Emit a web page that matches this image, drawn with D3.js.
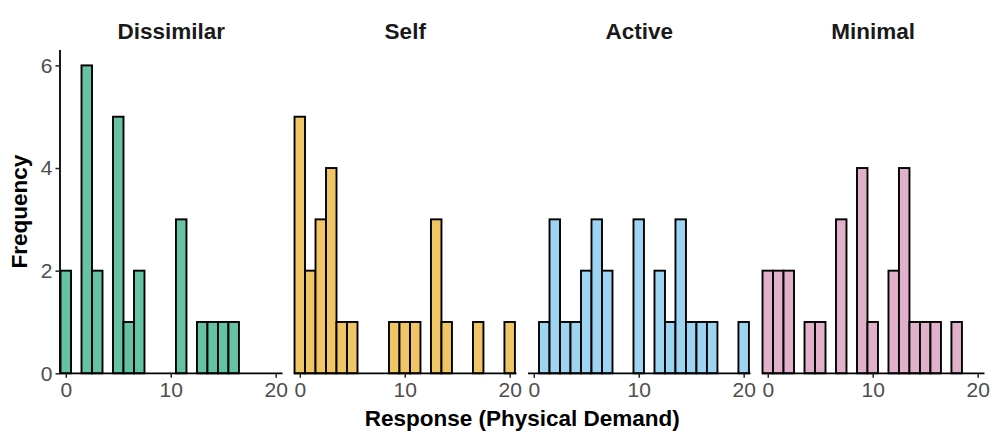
<!DOCTYPE html>
<html><head><meta charset="utf-8">
<script src="https://cdn.jsdelivr.net/npm/d3@7"></script>
<style>body{margin:0;background:#fff;}svg{display:block;font-family:"Liberation Sans",Arial,sans-serif;}</style>
</head><body>
<svg id="chart" width="996" height="443"></svg>
<script>
const groups = ["Dissimilar", "Self", "Active", "Minimal"];
const colors = ["#66C2A5", "#F0C566", "#9DD4F1", "#E1B1CB"];
const responses = d3.range(0, 21);
const dissimilarCounts = [2,0,6,2,0,5,1,2,0,0,0,3,0,1,1,1,1,0,0,0,0];
const selfCounts = [5,2,3,4,1,1,0,0,0,1,1,1,0,3,1,0,0,1,0,0,1];
const activeCounts = [0,1,3,1,1,2,3,2,0,0,3,0,2,1,3,1,1,1,0,0,1];
const minimalCounts = [2,2,2,0,1,1,0,3,0,4,1,0,2,4,1,1,1,0,1,0,0];
const xTicks = [0, 10, 20];
const yTicks = [0, 2, 4, 6];
const counts = [dissimilarCounts, selfCounts, activeCounts, minimalCounts];

const svg = d3.select("#chart");
const panelLeft0 = 60, panelStep = 234, panelW = 222.5;
const plotTop = 50, plotBottom = 373.3;
const x = d3.scaleLinear().domain([-0.55, 20.65]).range([0, panelW]);
const y = d3.scaleLinear().domain([0, 6.3]).range([plotBottom, plotTop]);

groups.forEach((g, i) => {
  const left = panelLeft0 + i * panelStep;
  const p = svg.append("g").attr("transform", `translate(${left},0)`);
  const data = responses.map((r, k) => ({r, c: counts[i][k]})).filter(d => d.c > 0);
  p.selectAll("rect").data(data).enter().append("rect")
    .attr("x", d => x(d.r - 0.5))
    .attr("width", d => x(d.r + 0.5) - x(d.r - 0.5))
    .attr("y", d => y(d.c))
    .attr("height", d => y(0) - y(d.c))
    .attr("fill", colors[i])
    .attr("stroke", "#000")
    .attr("stroke-width", 1.9);
  const ax = p.append("g").attr("transform", `translate(0,${plotBottom})`)
    .call(d3.axisBottom(x).tickValues(xTicks).tickSize(4.5).tickPadding(4).tickFormat(d3.format("d")));
  ax.select(".domain").attr("stroke", "#000").attr("stroke-width", 1.8).attr("d", `M0,0H${panelW}`);
  ax.selectAll(".tick line").attr("stroke", "#222").attr("stroke-width", 1.5);
  ax.selectAll(".tick text").attr("fill", "#4D4D4D").attr("font-size", 21).attr("font-family", "Liberation Sans, Arial, sans-serif");
  p.append("text").attr("x", panelW / 2).attr("y", 38.5).attr("text-anchor", "middle")
    .attr("font-weight", "bold").attr("font-size", 22.5).attr("fill", "#1a1a1a").text(g);
  if (i === 0) {
    const ay = p.append("g").call(d3.axisLeft(y).tickValues(yTicks).tickSize(4.5).tickPadding(3).tickFormat(d3.format("d")));
    ay.select(".domain").attr("stroke", "#000").attr("stroke-width", 1.8).attr("d", `M0,${plotTop}V${plotBottom}`);
    ay.selectAll(".tick line").attr("stroke", "#222").attr("stroke-width", 1.5);
    ay.selectAll(".tick text").attr("fill", "#4D4D4D").attr("font-size", 21).attr("font-family", "Liberation Sans, Arial, sans-serif");
  }
});

const plotMid = (panelLeft0 + panelLeft0 + 3 * panelStep + panelW) / 2;
svg.append("text").attr("x", plotMid).attr("y", 425.5).attr("text-anchor", "middle")
  .attr("font-weight", "bold").attr("font-size", 22.5).attr("fill", "#000").text("Response (Physical Demand)");
svg.append("text").attr("transform", `translate(26.5,${(plotTop + plotBottom) / 2}) rotate(-90)`).attr("text-anchor", "middle")
  .attr("font-weight", "bold").attr("font-size", 22.5).attr("fill", "#000").text("Frequency");
</script>
</body></html>
